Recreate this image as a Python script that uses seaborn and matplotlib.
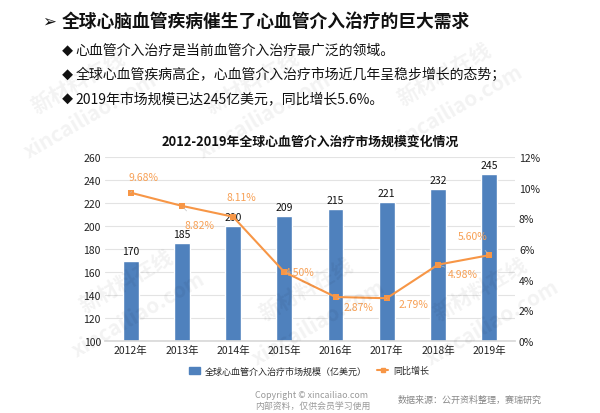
import numpy as np
import pandas as pd
import matplotlib
matplotlib.use('Agg')
import matplotlib.pyplot as plt
import seaborn as sns
from matplotlib.patches import Patch
from matplotlib.lines import Line2D

years = ['2012年', '2013年', '2014年', '2015年', '2016年', '2017年', '2018年', '2019年']
market_size = [170, 185, 200, 209, 215, 221, 232, 245]
growth_pct = [9.68, 8.82, 8.11, 4.50, 2.87, 2.79, 4.98, 5.60]

# offsets of the percent labels (points)
pct_offsets = [(9.5, 11.5), (13, -14), (6, 14), (11, 0), (16.5, -7), (19, -4.5), (18, -6.5), (-12, 14)]

BAR = '#4f81bd'
LINE = '#f79646'
LABEL = '#f7a055'

sns.set_theme(style='white')
plt.rcParams['font.family'] = ['Noto Sans CJK SC', 'DejaVu Sans']

fig = plt.figure(figsize=(6, 4.14), dpi=100)
ax = fig.add_axes([0.175, 0.174, 0.683, 0.444])

df = pd.DataFrame({'year': years, 'size': market_size})
sns.barplot(data=df, x='year', y='size', color=BAR, width=0.31,
            saturation=1, ax=ax, zorder=2)
ax.set_ylim(100, 260)
ax.set_yticks(range(100, 261, 20))
ax.set_xlim(-0.5, len(years) - 0.5)
ax.set_xlabel('')
ax.set_ylabel('')
ax.grid(axis='y', color='#e3e3e3', linewidth=0.8, zorder=0)
ax.tick_params(axis='both', labelsize=7.5, length=0, pad=3, colors='#222222')
for s in ax.spines.values():
    s.set_visible(False)
ax.spines['bottom'].set_visible(True)
ax.spines['bottom'].set_color('#d9d9d9')

for i, v in enumerate(market_size):
    ax.annotate(str(v), (i, v), xytext=(0, 3), textcoords='offset points',
                ha='center', va='bottom', fontsize=7.5, color='#111111')

ax2 = ax.twinx()
sns.lineplot(x=np.arange(len(years)), y=growth_pct, color=LINE, marker='s',
             markersize=4, markeredgewidth=0, linewidth=1.5, ax=ax2, zorder=3)
ax2.set_ylim(0, 12)
ax2.set_yticks(range(0, 13, 2))
ax2.set_yticklabels([f'{t}%' for t in range(0, 13, 2)])
ax2.tick_params(axis='y', labelsize=7.5, length=0, pad=3, colors='#222222')
for s in ax2.spines.values():
    s.set_visible(False)

for i, v in enumerate(growth_pct):
    dx, dy = pct_offsets[i]
    ax2.annotate(f'{v:.2f}%', (i, v), xytext=(dx, dy), textcoords='offset points',
                 ha='center', va='center', fontsize=7.5, color=LABEL,
                 arrowprops=dict(arrowstyle='-', color='#c0c0c0', lw=0.5,
                                 shrinkA=6, shrinkB=2))

ax.set_title('2012-2019年全球心血管介入治疗市场规模变化情况',
             fontsize=9.3, fontweight='bold', color='#111111', pad=9)

handles = [Patch(color=BAR, label='全球心血管介入治疗市场规模（亿美元）'),
           Line2D([0], [0], color=LINE, marker='s', markersize=3, lw=1.5, label='同比增长')]
fig.legend(handles=handles, loc='center', bbox_to_anchor=(0.515, 0.102), ncol=2,
           frameon=False, fontsize=6.5, handlelength=1.2, handleheight=0.8,
           columnspacing=1.2, handletextpad=0.5)

# header text
fig.text(0.071, 0.947, '➢', fontsize=12, family=['DejaVu Sans'], va='center', color='#111111')
fig.text(0.102, 0.947, '全球心脑血管疾病催生了心血管介入治疗的巨大需求',
         fontsize=12.8, fontweight='bold', va='center', color='#111111')
bullets = ['心血管介入治疗是当前血管介入治疗最广泛的领域。',
           '全球心血管疾病高企，心血管介入治疗市场近几年呈稳步增长的态势；',
           '2019年市场规模已达245亿美元，同比增长5.6%。']
for k, b in enumerate(bullets):
    y = 0.877 - k * 0.058
    fig.text(0.103, y, '◆', fontsize=8, va='center', color='#111111')
    fig.text(0.126, y, b, fontsize=10, va='center', color='#111111')

# footer
fig.text(0.425, 0.045, 'Copyright © xincailiao.com', fontsize=6.4, color='#999999', va='center')
fig.text(0.425, 0.017, '内部资料，仅供会员学习使用', fontsize=6.4, color='#999999', va='center')
fig.text(0.663, 0.033, '数据来源：公开资料整理，赛瑞研究', fontsize=6.5, color='#888888',
         style='italic', va='center')

# watermarks
for (wx, wy) in [(0.13, 0.80), (0.42, 0.80), (0.74, 0.82), (0.21, 0.32), (0.51, 0.30), (0.80, 0.30)]:
    fig.text(wx, wy, '新材料在线', fontsize=15, color='#000000', alpha=0.05,
             rotation=30, ha='center', va='center', fontweight='bold')
    fig.text(wx + 0.02, wy - 0.08, 'xincailiao.com', fontsize=15, color='#000000', alpha=0.05,
             rotation=30, ha='center', va='center', fontweight='bold')

fig.savefig('out.png', dpi=100)
